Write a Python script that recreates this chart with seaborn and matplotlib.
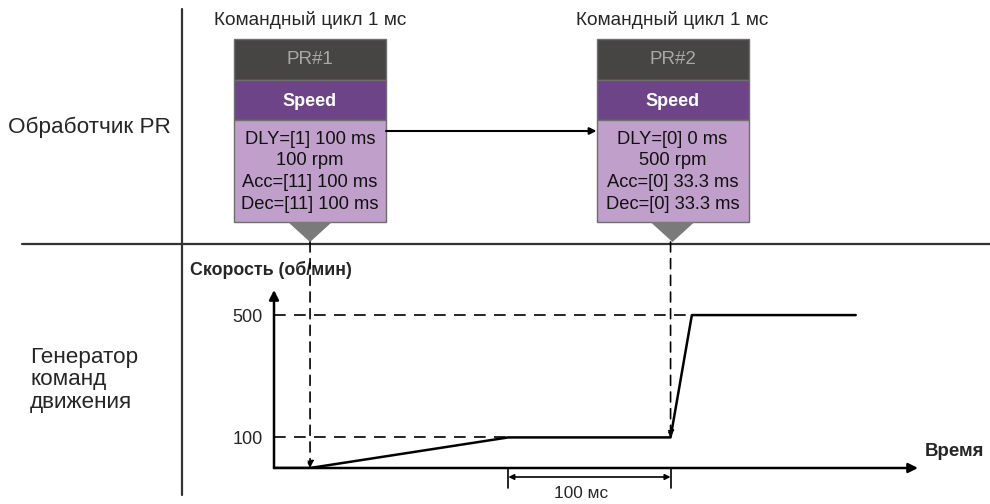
import matplotlib
matplotlib.use("Agg")
import matplotlib.pyplot as plt
import matplotlib.patches as mpatches
import matplotlib.transforms as mtransforms
import seaborn as sns
import pandas as pd

# данные профиля скорости (время в мс, скорость в об/мин)
time_ms = [-22, 0, 121, 220, 233, 333]
speed_rpm = [0, 0, 100, 100, 500, 500]
speed_ticks = [100, 500]
trigger_ms = [0, 220]           # моменты запуска PR#1 и PR#2
dly_span_ms = [121, 220]        # размерная стрелка "100 мс"

pr_names = ["PR#1", "PR#2"]
pr_mode = ["Speed", "Speed"]
pr_lines = [
    ["DLY=[1] 100 ms", "100 rpm", "Acc=[11] 100 ms", "Dec=[11] 100 ms"],
    ["DLY=[0] 0 ms", "500 rpm", "Acc=[0] 33.3 ms", "Dec=[0] 33.3 ms"],
]
cycle_label = "Командный цикл 1 мс"

sns.set_theme(style="white")
plt.rcParams["font.family"] = ["Liberation Sans", "DejaVu Sans"]

W, H = 990, 504
fig = plt.figure(figsize=(W / 100, H / 100), dpi=100)

# фон-схема в пиксельных координатах
bg = fig.add_axes([0, 0, 1, 1])
bg.set_xlim(0, W)
bg.set_ylim(H, 0)
bg.axis("off")

# график скорости
x0, x1, y0, y1 = 274, 918, 468, 290
ax = fig.add_axes([x0 / W, 1 - y0 / H, (x1 - x0) / W, (y0 - y1) / H])
ax.patch.set_alpha(0)
ax.set_xlim(-22, 371)
ax.set_ylim(0, 582)
for s in ax.spines.values():
    s.set_visible(False)

df = pd.DataFrame({"t": time_ms, "v": speed_rpm})
sns.lineplot(data=df, x="t", y="v", ax=ax, color="black", lw=1.8,
             sort=False, estimator=None)
ax.set_xlabel("")
ax.set_ylabel("")
ax.set_xticks([])
ax.set_yticks(speed_ticks)
ax.set_yticklabels([str(v) for v in speed_ticks], fontsize=13)
ax.tick_params(axis="y", length=0, pad=8)

# оси со стрелками
ax.annotate("", xy=(1, 0), xytext=(0, 0), xycoords="axes fraction",
            arrowprops=dict(arrowstyle="-|>", lw=1.8, color="black",
                            mutation_scale=14, shrinkA=0, shrinkB=0))
ax.annotate("", xy=(0, 1), xytext=(0, 0), xycoords="axes fraction",
            arrowprops=dict(arrowstyle="-|>", lw=1.8, color="black",
                            mutation_scale=14, shrinkA=0, shrinkB=0))
bg.text(190, 270, "Скорость (об/мин)", fontsize=12.8, fontweight="bold", va="center")
bg.text(925, 451, "Время", fontsize=13.4, fontweight="bold", va="center")

# горизонтальные пунктиры к уровням 100 и 500
dash = dict(color="black", lw=1.2, dashes=(7, 5))
ax.plot([-22, time_ms[2]], [100, 100], **dash, clip_on=False)
ax.plot([-22, time_ms[4]], [500, 500], **dash, clip_on=False)

# вертикальные пунктиры от треугольников вниз
blend = mtransforms.blended_transform_factory(ax.transData, bg.transData)
ends = [0, 100]
for t, v_end in zip(trigger_ms, ends):
    ax.annotate("", xy=(t, v_end), xycoords="data",
                xytext=(t, 242), textcoords=blend,
                arrowprops=dict(arrowstyle="-|>", lw=1.2, color="black",
                                linestyle=(0, (6, 4)), mutation_scale=10,
                                shrinkA=0, shrinkB=0))

# размерная стрелка 100 мс
for t in dly_span_ms:
    bg.plot([t, t], [468, 488], color="black", lw=1.2, transform=blend)
ax.annotate("", xy=(dly_span_ms[0], 477), xytext=(dly_span_ms[1], 477),
            xycoords=blend, textcoords=blend,
            arrowprops=dict(arrowstyle="<|-|>", lw=1.2, color="black",
                            mutation_scale=8, shrinkA=0, shrinkB=0))
bg.text(581, 494, "100 мс", fontsize=12.4, ha="center", va="center")

# разделители
bg.plot([182, 182], [9, 495], color="#333333", lw=1.6)
bg.plot([22, 990], [244, 244], color="#333333", lw=1.6)

bg.text(8, 127, "Обработчик PR", fontsize=16.2, va="center")
bg.text(30, 380, "Генератор\nкоманд\nдвижения", fontsize=16.2, va="center",
        linespacing=1.08)

# блоки PR
box_w = 152
centers = [310, 672.5]
for i, cx in enumerate(centers):
    left = cx - box_w / 2
    bg.add_patch(mpatches.Rectangle((left, 39), box_w, 41, facecolor="#474444",
                                    edgecolor="#6e6e6e", lw=1))
    bg.add_patch(mpatches.Rectangle((left, 80), box_w, 40, facecolor="#6d4488",
                                    edgecolor="#6e6e6e", lw=1))
    bg.add_patch(mpatches.Rectangle((left, 120), box_w, 102, facecolor="#c0a0cb",
                                    edgecolor="#6e6e6e", lw=1))
    bg.add_patch(mpatches.Polygon([(cx - 22, 222), (cx + 22, 222), (cx, 242)],
                                  closed=True, facecolor="#7a7a7a", edgecolor="none"))
    bg.text(cx, 60, pr_names[i], color="#a8a8a8", fontsize=13.5, ha="center", va="center")
    bg.text(cx, 101, pr_mode[i], color="white", fontsize=13, fontweight="bold",
            ha="center", va="center")
    for j, line in enumerate(pr_lines[i]):
        bg.text(cx, 139 + j * 21.8, line, color="#111111", fontsize=13.2,
                ha="center", va="center")
    bg.text(cx, 20, cycle_label, fontsize=13.7, ha="center", va="center")

# стрелка между блоками
bg.annotate("", xy=(centers[1] - box_w / 2, 131), xytext=(centers[0] + box_w / 2, 131),
            arrowprops=dict(arrowstyle="-|>", lw=1.5, color="black",
                            mutation_scale=10, shrinkA=0, shrinkB=0))

fig.savefig("out.png", dpi=100)
